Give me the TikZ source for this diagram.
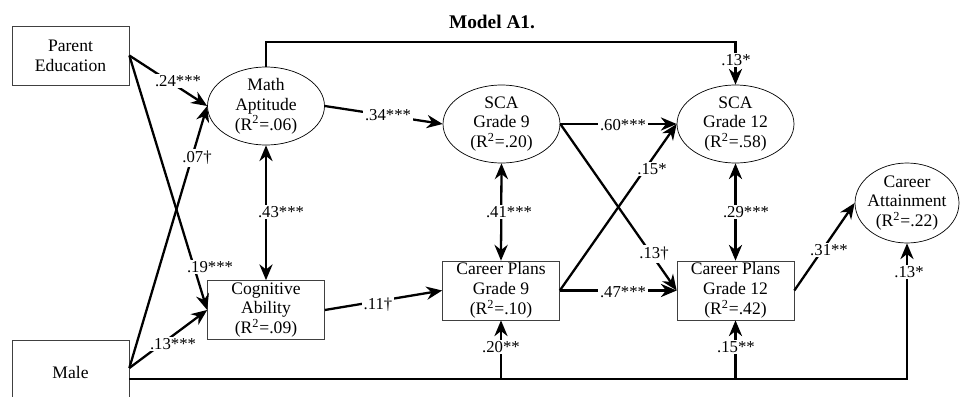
\documentclass[tikz,border=0pt]{standalone}
\usepackage{fontspec}
\setmainfont{Liberation Serif}
\usetikzlibrary{arrows.meta,shapes.geometric,calc}

\begin{document}
\begin{tikzpicture}[x=0.02cm, y=-0.02cm,
    font=\fontsize{10}{11.3}\selectfont,
    latent/.style={draw, thin, ellipse, minimum width=2.34cm, minimum height=1.56cm, inner sep=-1pt, align=center},
    observed/.style={draw=black!75, thin, minimum width=2.34cm, minimum height=1.18cm, inner sep=0pt, align=center},
    path/.style={line width=1.3pt, -{Stealth[length=9pt,width=7.5pt]}},
    both/.style={line width=1.3pt, {Stealth[length=9pt,width=7.5pt]}-{Stealth[length=9pt,width=7.5pt]}},
    coef/.style={fill=white, inner sep=1pt, font=\fontsize{9.5}{11}\selectfont}]

    \clip (0,0) rectangle (960,396);

    % Title
    \node[font=\bfseries\fontsize{11}{13}\selectfont] (title) at (492,22) {Model A1.};

    % Variables
    \node[observed] (pared) at (70.5,55.5) {Parent\\Education};
    \node[observed, minimum height=1.28cm] (male) at (70.5,372) {Male};
    \node[latent] (math) at (266,106) {Math\\Aptitude\\(R\textsuperscript{2}=.06)};
    \node[observed] (cog) at (266,310) {Cognitive\\Ability\\(R\textsuperscript{2}=.09)};
    \node[latent] (sca9) at (501.5,124) {SCA\\Grade 9\\(R\textsuperscript{2}=.20)};
    \node[observed] (cp9) at (501,290.5) {Career Plans\\Grade 9\\(R\textsuperscript{2}=.10)};
    \node[latent] (sca12) at (735.5,124) {SCA\\Grade 12\\(R\textsuperscript{2}=.58)};
    \node[observed] (cp12) at (735.5,290.5) {Career Plans\\Grade 12\\(R\textsuperscript{2}=.42)};
    \node[latent, minimum width=2.08cm, minimum height=1.6cm, inner xsep=-5pt] (att) at (907,203) {Career\\Attainment\\(R\textsuperscript{2}=.22)};

    % Helper points
    \coordinate (mhigh) at ($(male.east)+(0,-4)$);
    \coordinate (mlow) at ($(male.east)+(0,7)$);
    \coordinate (topbend) at (266,42);

    % Paths from background variables
    \draw[path] (pared.east) -- (math.west);
    \draw[path] (pared.east) -- (cog.west);
    \draw[path] (mhigh) -- (math.west);
    \draw[path] (mhigh) -- (cog.west);
    \draw[both] (math.south) -- (cog.north);

    % Grade 9
    \draw[path] (math.east) -- (sca9.west);
    \draw[path] (cog.east) -- (cp9.west);
    \draw[both] (sca9.south) -- (cp9.north);

    % Grade 12
    \draw[path] (sca9.east) -- (sca12.west);
    \draw[path] (sca9.east) -- (cp12.west);
    \draw[path] (cp9.east) -- (sca12.west);
    \draw[path] (cp9.east) -- (cp12.west);
    \draw[both] (sca12.south) -- (cp12.north);
    \draw[path] (cp12.east) -- (att.west);

    % Long paths
    \draw[path] (math.north) -- (topbend) -| (sca12.north);
    \draw[path] (mlow) -| (att.south);
    \draw[path] (cp9.south |- mlow) -- (cp9.south);
    \draw[path] (cp12.south |- mlow) -- (cp12.south);

    % Coefficients
    \node[coef] (c1) at (178,81) {.24***};
    \node[coef] (c2) at (210,267) {.19***};
    \node[coef] (c3) at (197,158) {.07†};
    \node[coef] (c4) at (173,344) {.13***};
    \node[coef] (c5) at (281,212) {.43***};
    \node[coef] (c6) at (388,115) {.34***};
    \node[coef] (c7) at (378,305) {.11†};
    \node[coef] (c8) at (509,212) {.41***};
    \node[coef] (c9) at (623,125) {.60***};
    \node[coef] (c10) at (652,169) {.15*};
    \node[coef] (c11) at (654,254) {.13†};
    \node[coef] (c12) at (623,292) {.47***};
    \node[coef] (c13) at (746,212) {.29***};
    \node[coef] (c14) at (829,250) {.31**};
    \node[coef] (c15) at (736,60) {.13*};
    \node[coef] (c16) at (501,347) {.20**};
    \node[coef] (c17) at (736,347) {.15**};
    \node[coef] (c18) at (909,272) {.13*};
\end{tikzpicture}
\end{document}
